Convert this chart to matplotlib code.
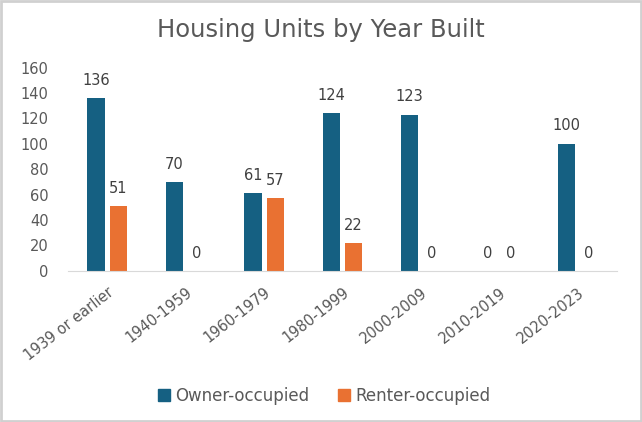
import matplotlib
matplotlib.use("Agg")
import matplotlib.pyplot as plt
import numpy as np
from matplotlib.patches import Rectangle

plt.rcParams['font.family'] = ['DejaVu Sans']

categories = ["1939 or earlier", "1940-1959", "1960-1979", "1980-1999", "2000-2009", "2010-2019", "2020-2023"]
owner = [136, 70, 61, 124, 123, 0, 100]
renter = [51, 0, 57, 22, 0, 0, 0]
series_names = ["Owner-occupied", "Renter-occupied"]
colors = ["#156082", "#E97132"]
yticks = [0, 20, 40, 60, 80, 100, 120, 140, 160]

fig = plt.figure(figsize=(6.42, 4.22), dpi=100)
ax = fig.add_axes([0.106, 0.358, 0.855, 0.482])

x = np.arange(len(categories))
w = 0.22
gap = 0.065
b1 = ax.bar(x - (w + gap) / 2, owner, w, color=colors[0], label=series_names[0])
b2 = ax.bar(x + (w + gap) / 2, renter, w, color=colors[1], label=series_names[1])

for bars, vals in ((b1, owner), (b2, renter)):
    for rect, v in zip(bars, vals):
        ax.annotate(f"{v}", (rect.get_x() + rect.get_width() / 2, v),
                    xytext=(0, 7.5), textcoords="offset points",
                    ha="center", va="bottom", fontsize=10.5, color="#404040")

ax.set_xlim(-0.5, len(categories) - 0.5)
ax.set_ylim(0, 160)
ax.set_yticks(yticks)
ax.set_xticks(x)
ax.set_xticklabels(categories, rotation=38, ha="right", rotation_mode="anchor")
ax.tick_params(axis="both", length=0, labelsize=10.5, labelcolor="#595959")
ax.tick_params(axis="y", pad=14)
ax.tick_params(axis="x", pad=10)
for s in ["top", "right", "left"]:
    ax.spines[s].set_visible(False)
ax.spines["bottom"].set_color("#D9D9D9")

fig.text(0.5, (422 - 37) / 422, "Housing Units by Year Built", ha="center", va="baseline",
         fontsize=17.5, color="#595959")

handles = [Rectangle((0, 0), 1, 1, color=c) for c in colors]
fig.legend(handles, series_names, loc="center", bbox_to_anchor=(0.505, (422 - 396) / 422), ncol=2,
           frameon=False, fontsize=12, labelcolor="#595959",
           handlelength=0.72, handleheight=0.72, handletextpad=0.3, columnspacing=1.7)

fig.patches.append(Rectangle((0.002, 0.003), 0.996, 0.994, transform=fig.transFigure,
                             fill=False, edgecolor="#D0D0D0", linewidth=2))

fig.savefig("out.png", dpi=100)
